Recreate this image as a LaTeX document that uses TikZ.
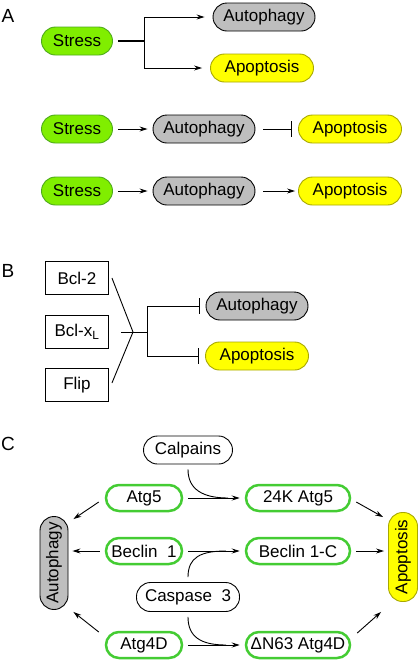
\documentclass[tikz,border=0pt]{standalone}
\usepackage{fontspec}
\setmainfont{Liberation Sans}
\usetikzlibrary{arrows.meta,calc}
\definecolor{limefill}{HTML}{80EE00}
\definecolor{limeborder}{HTML}{4DAA1A}
\definecolor{greyfill}{HTML}{BEBEBE}
\definecolor{yellowfill}{HTML}{FFFF00}
\definecolor{yellowborder}{HTML}{A8A800}
\definecolor{cgreen}{HTML}{44CC33}
\begin{document}
\begin{tikzpicture}[x=1pt,y=-1pt,
  every node/.style={font=\fontsize{17}{20}\selectfont, inner sep=0pt},
  pill/.style={draw, rounded corners=14pt, minimum height=28pt, line width=0.9pt},
  stressbox/.style={pill, fill=limefill, draw=limeborder, minimum width=71pt},
  autobox/.style={pill, fill=greyfill, draw=black, minimum width=102pt},
  apobox/.style={pill, fill=yellowfill, draw=yellowborder, minimum width=103pt},
  genebox/.style={draw=black, line width=0.9pt, minimum width=63pt, minimum height=33pt},
  cbox/.style={draw=cgreen, line width=2.5pt, rounded corners=13pt, minimum height=26pt, fill=white},
  plainpill/.style={draw=black, line width=0.9pt, rounded corners=14pt, minimum height=28pt, fill=white},
  arr/.style={line width=0.9pt, -{Stealth[length=8pt,width=5pt]}},
  inh/.style={line width=0.9pt, -{Bar[width=16pt]}},
  ln/.style={line width=0.9pt},
  panel/.style={font=\fontsize{19}{22}\selectfont}
]
\useasboundingbox (0,0) rectangle (420,662);

% ---------- Panel A ----------
\node[panel] (lA) at (8,16) {A};
\node[stressbox] (s1) at (77,41) {Stress};
\node[autobox] (a1) at (264,17) {Autophagy};
\node[apobox] (p1) at (262,68) {Apoptosis};
\coordinate (j1) at (144,41);
\draw[line width=1.3pt] ([xshift=5pt]s1.east) -- (j1);
\draw[arr] (j1) |- ([xshift=-8pt]a1.west);
\draw[arr] (j1) |- ([xshift=-8pt]p1.west);

\node[stressbox] (s2) at (77,129) {Stress};
\node[autobox] (a2) at (204,129) {Autophagy};
\node[apobox] (p2) at (350,129) {Apoptosis};
\draw[arr] ([xshift=5pt]s2.east) -- ([xshift=-5pt]a2.west);
\draw[inh] ([xshift=8pt]a2.east) -- ([xshift=-6pt]p2.west);

\node[stressbox] (s3) at (77,191) {Stress};
\node[autobox] (a3) at (204,191) {Autophagy};
\node[apobox] (p3) at (350,191) {Apoptosis};
\draw[arr] ([xshift=5pt]s3.east) -- ([xshift=-5pt]a3.west);
\draw[arr] ([xshift=8pt]a3.east) -- ([xshift=-3pt]p3.west);

% ---------- Panel B ----------
\node[panel] (lB) at (8,271) {B};
\node[genebox] (b1) at (77,278) {Bcl-2};
\node[genebox] (b2) at (77,332) {Bcl-x\textsubscript{L}};
\node[genebox] (b3) at (77,385) {Flip};
\coordinate (k1) at (133,332);
\coordinate (k2) at (147,332);
\node[autobox] (a4) at (257,306) {Autophagy};
\node[apobox] (p4) at (257,356) {Apoptosis};
\draw[ln] ([xshift=3pt]b1.east) -- (k1);
\draw[ln] ([xshift=3pt,yshift=2pt]b3.east) -- (k1);
\draw[ln] ([xshift=12pt]b2.east) -- (k2);
\draw[inh] (k2) |- ([xshift=-6pt]a4.west);
\draw[inh] (k2) |- ([xshift=-6pt]p4.west);

% ---------- Panel C ----------
\node[panel] (lC) at (8,444) {C};
\node[plainpill, minimum width=89pt] (cal) at (188,450) {Calpains};
\node[cbox, minimum width=76pt] (g1) at (144,498) {Atg5};
\node[cbox, minimum width=104pt] (g2) at (298,498) {24K Atg5};
\node[cbox, minimum width=76pt] (g3) at (144,551) {Beclin\ \ 1};
\node[cbox, minimum width=104pt] (g4) at (298,551) {Beclin 1-C};
\node[plainpill, minimum width=103pt, minimum height=29pt] (cas) at (188,597) {Caspase\ \ 3};
\node[cbox, minimum width=76pt] (g5) at (144,645) {Atg4D};
\node[cbox, minimum width=104pt] (g6) at (298,645) {ΔN63 Atg4D};
\node[draw=black, fill=greyfill, line width=0.9pt, rounded corners=14pt,
      minimum width=28pt, minimum height=93pt] (aC) at (54,563) {\rotatebox{90}{Autophagy}};
\node[draw=yellowborder, fill=yellowfill, line width=0.9pt, rounded corners=14pt,
      minimum width=29pt, minimum height=89pt] (pC) at (403,557) {\rotatebox{90}{Apoptosis}};

\draw[arr] ($(g1.west)+(-6,4)$) -- ($(aC.north east)+(5,3)$);
\draw[arr] ([xshift=-5pt]g3.west) -- ($(aC.east |- g3.west)+(4,0)$);
\draw[arr] ($(g5.west)+(-6,-13)$) -- ($(aC.south east)+(5,2)$);

\draw[arr] ([xshift=5pt]g1.east) -- ([xshift=-5pt]g2.west);
\draw[arr] ([xshift=5pt]g3.east) -- ([xshift=-5pt]g4.west);
\draw[arr] ([xshift=5pt]g5.east) -- ([xshift=-5pt]g6.west);

\draw[arr] ($(g2.east)+(5,4)$) -- ($(pC.north west)+(-5,5)$);
\draw[arr] ([xshift=5pt]g4.east) -- ($(pC.west |- g4.east)+(-4,0)$);
\draw[arr] ($(g6.east)+(6,-12)$) -- ($(pC.south west)+(-7,10)$);

\coordinate (m1) at (228,498);
\coordinate (m2) at (226,551);
\coordinate (m3) at (226,645);
\draw[ln] ([yshift=-5pt]cal.south) .. controls +(0,20) and +(-25,0) .. (m1);
\draw[ln] ([yshift=5pt]cas.north) .. controls +(0,-20) and +(-25,0) .. (m2);
\draw[ln] ([yshift=-5pt]cas.south) .. controls +(0,20) and +(-25,0) .. (m3);
\end{tikzpicture}
\end{document}
